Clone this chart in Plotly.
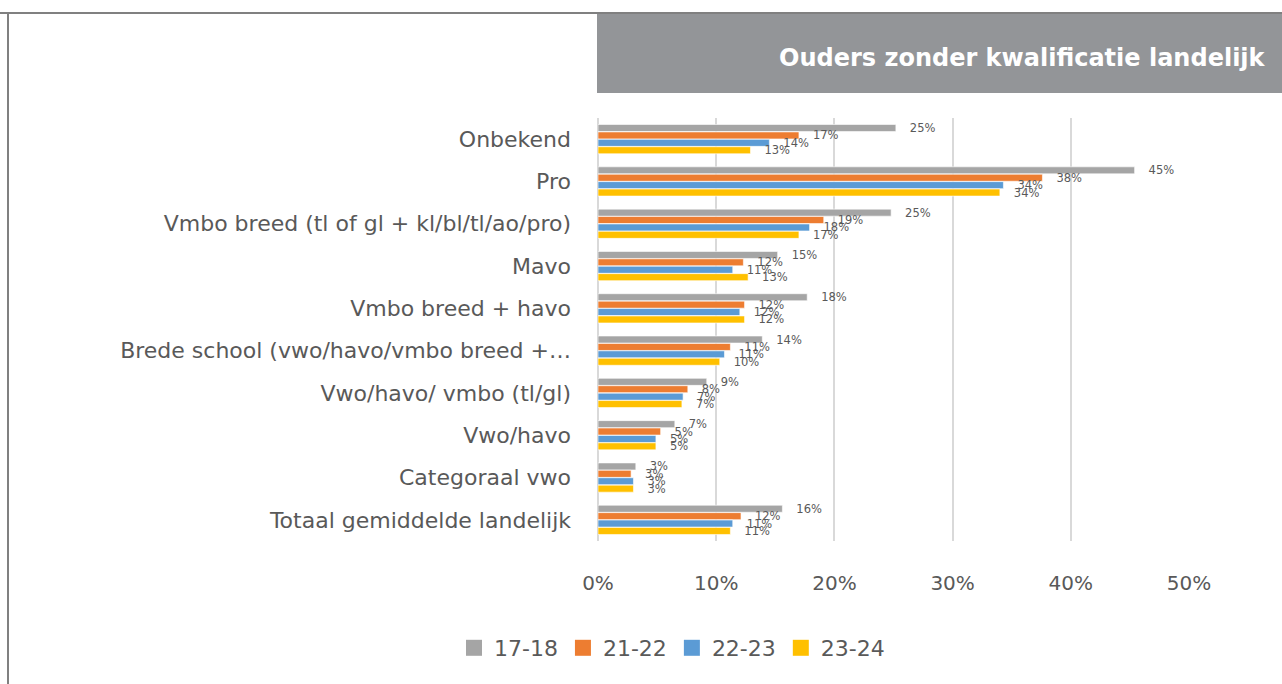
import plotly.graph_objects as go

# Categories (top to bottom) and shares per school year
categories = [
    "Onbekend",
    "Pro",
    "Vmbo breed (tl of gl + kl/bl/tl/ao/pro)",
    "Mavo",
    "Vmbo breed + havo",
    "Brede school (vwo/havo/vmbo breed +…",
    "Vwo/havo/ vmbo (tl/gl)",
    "Vwo/havo",
    "Categoraal vwo",
    "Totaal gemiddelde landelijk",
]
years = ["17-18", "21-22", "22-23", "23-24"]
share_17_18 = [0.252, 0.454, 0.248, 0.152, 0.177, 0.139, 0.092, 0.065, 0.032, 0.156]
share_21_22 = [0.170, 0.376, 0.191, 0.123, 0.124, 0.112, 0.076, 0.053, 0.028, 0.121]
share_22_23 = [0.145, 0.343, 0.179, 0.114, 0.120, 0.107, 0.072, 0.049, 0.030, 0.114]
share_23_24 = [0.129, 0.340, 0.170, 0.127, 0.124, 0.103, 0.071, 0.049, 0.030, 0.112]
series = [share_17_18, share_21_22, share_22_23, share_23_24]
colors = ["#A5A5A5", "#ED7D31", "#5B9BD5", "#FFC000"]

FONT = "DejaVu Sans"
TEXT = "#595959"
W, H = 1282, 684
L, R, T, B = 598, 93, 118, 143
pw, ph = W - L - R, H - T - B


def px_x(x):
    return (x - L) / pw


def px_y(y):
    return (H - B - y) / ph


fig = go.Figure()
for name, vals, col in zip(years, series, colors):
    fig.add_trace(go.Bar(
        y=categories, x=vals, name=name, orientation="h", showlegend=False,
        marker=dict(color=col, line=dict(color="white", width=0.6)),
        texttemplate="\u00a0\u00a0\u00a0%{x:.0%}", textposition="outside",
        constraintext="none", cliponaxis=False,
        textfont=dict(family=FONT, size=11.5, color=TEXT),
    ))

# legend entries with larger square swatches
for name, col in zip(years, colors):
    fig.add_trace(go.Scatter(
        x=[None], y=[None], name=name, mode="markers",
        marker=dict(symbol="square", size=16, color=col),
        showlegend=True,
    ))

fig.update_layout(
    width=W, height=H,
    margin=dict(l=L, r=R, t=T, b=B),
    paper_bgcolor="white", plot_bgcolor="white",
    barmode="group", bargap=0.3, bargroupgap=0.05,
    font=dict(family=FONT, color=TEXT),
    showlegend=True,
    legend=dict(
        orientation="h", xref="container", yref="container",
        x=672 / W, xanchor="center", y=1 - 648 / H, yanchor="middle",
        font=dict(family=FONT, size=22, color=TEXT), traceorder="normal",
        itemsizing="trace", itemwidth=30,
    ),
    xaxis=dict(
        range=[0, 0.5], dtick=0.1, tickformat=".0%",
        showgrid=True, gridcolor="#D9D9D9", gridwidth=2,
        zeroline=True, zerolinecolor="#D9D9D9", zerolinewidth=2,
        showline=False, ticks="", ticklabelstandoff=28,
        tickfont=dict(family=FONT, size=20, color=TEXT),
    ),
    yaxis=dict(
        autorange="reversed", showgrid=False, showline=False, ticks="",
        ticklabelstandoff=26, tickfont=dict(family=FONT, size=22, color=TEXT),
    ),
    shapes=[
        # title banner
        dict(type="rect", xref="paper", yref="paper",
             x0=px_x(597), x1=px_x(W), y0=px_y(93), y1=px_y(14),
             fillcolor="#939598", line=dict(width=0), layer="below"),
        # frame lines
        dict(type="line", xref="paper", yref="paper",
             x0=px_x(0), x1=px_x(W), y0=px_y(13), y1=px_y(13),
             line=dict(color="#808080", width=2)),
        dict(type="line", xref="paper", yref="paper",
             x0=px_x(8), x1=px_x(8), y0=px_y(13), y1=px_y(H),
             line=dict(color="#808080", width=2)),
    ],
    annotations=[
        dict(text="<b>Ouders zonder kwalificatie landelijk</b>",
             xref="paper", yref="paper", x=px_x(1268), y=px_y(58),
             xanchor="right", yanchor="middle", showarrow=False,
             font=dict(family=FONT, size=24, color="white")),
    ],
)

fig.write_html("out.html")
